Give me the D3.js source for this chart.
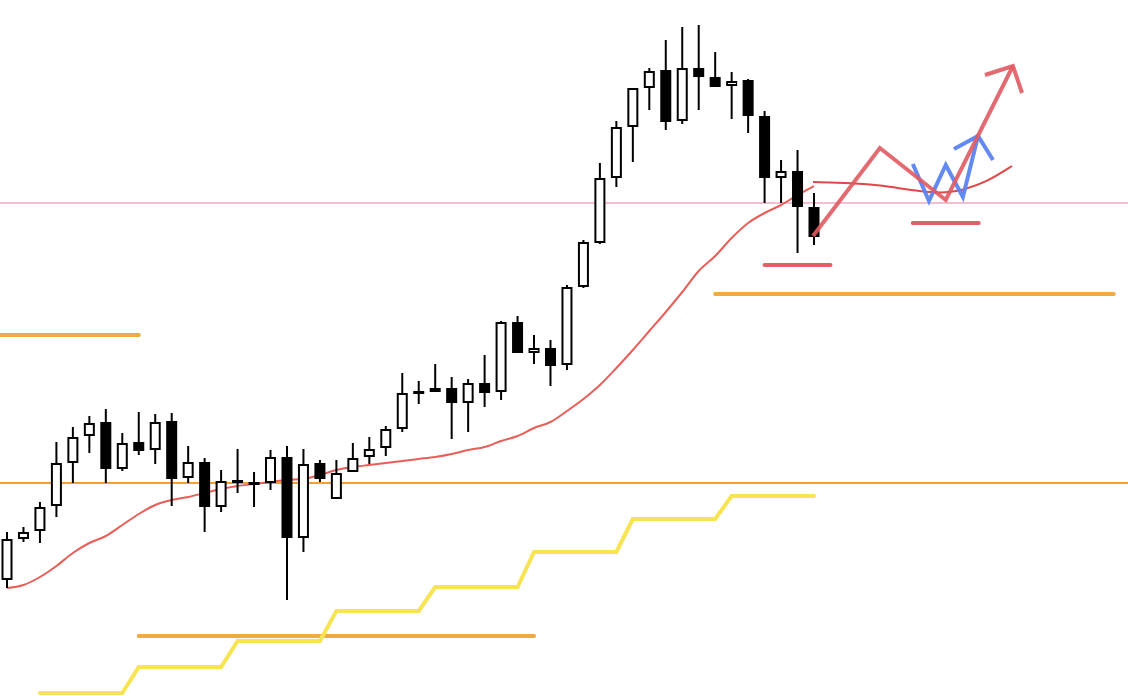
<!DOCTYPE html>
<html><head><meta charset="utf-8">
<script src="https://cdn.jsdelivr.net/npm/d3@7"></script>
<style>html,body{margin:0;padding:0;background:#fff;overflow:hidden}svg{display:block}</style>
</head><body><svg id="c" width="1128" height="696"></svg>
<script>
// ---- data (price units) ----
const opens  = [116,157,165,190,233,260,274,227,254,246,275,218,234,189,216,214,213,239,158,233,197,224,239,248,267,305,308,308,293,313,304,374,343,348,331,409,453,518,569,608,626,575,628,619,610,616,580,518,525,489];
const highs  = [164,169,194,254,269,280,287,263,284,282,283,250,238,226,247,224,246,250,247,236,236,253,259,270,323,315,332,319,317,341,375,380,361,356,411,456,533,575,608,628,656,669,671,644,624,617,585,536,546,503];
const lows   = [108,154,153,179,213,243,213,225,241,232,190,213,164,184,203,189,206,96,144,214,197,224,232,240,264,292,304,257,264,289,296,343,332,310,326,408,452,509,534,586,566,572,586,609,577,563,493,493,443,451];
const closes = [157,164,189,233,259,273,227,253,245,274,217,234,189,215,214,213,239,158,232,217,223,238,247,267,303,304,304,293,313,303,374,343,348,330,409,454,518,569,608,625,574,628,619,609,615,580,518,525,489,459];
const maValues = [108,111,119,130,143,153,160,171,182,191,196,199,203,207,210,212,214,216,217,221,226,229,231,233,235,237,239,242,246,249,255,260,268,274,285,297,311,328,346,365,384,404,425,440,458,473,483,491,501,510];
const pinkLevel = 493;
const orangeLevel = 213;
const orangeZones = [{from:-0.5,to:8,price:361},{from:8,to:32,price:60},{from:43,to:67.2,price:402}];
const stepStarts = [2,8,14,20,26,32,38,44];
const stepLevels = [3,29,55,85,109,144,177,200];
const stepLen = 5;
const projCurve = [[48.94,514],[51.37,513],[53.0,511],[55.6,504],[57.07,503],[58.04,506],[59.5,514],[61.02,530]];
const redPath = [[48.94,460],[53.0,548],[57.0,496],[61.08,630]];
const redArrowHead = [[59.38,621],[61.08,630],[61.63,603]];
const bluePath = [[55.0,532],[55.98,495],[57.0,531],[58.04,499],[58.96,560]];
const blueArrowHead = [[57.5,547],[58.96,560],[59.87,536]];
const redLevels = [{from:46.0,to:50.0,price:431},{from:55.0,to:59.0,price:473}];

// ---- scales ----
const W = 1128, H = 696;
const x = d3.scaleLinear().domain([0,49]).range([7,814]);
const y = d3.scaleLinear().domain([0,696]).range([696,0]);
const svg = d3.select('#c');

const line = d3.line().x(d=>x(d[0])).y(d=>y(d[1]));

// horizontal full-width lines
svg.append('line').attr('x1',0).attr('x2',W).attr('y1',y(pinkLevel)).attr('y2',y(pinkLevel))
  .attr('stroke','#f3bfd0').attr('stroke-width',2);
svg.append('line').attr('x1',0).attr('x2',W).attr('y1',y(orangeLevel)).attr('y2',y(orangeLevel))
  .attr('stroke','#f0a035').attr('stroke-width',2);

// orange zones
svg.selectAll('.oz').data(orangeZones).join('line').attr('class','oz')
  .attr('x1',d=>x(d.from)).attr('x2',d=>x(d.to)).attr('y1',d=>y(d.price)).attr('y2',d=>y(d.price))
  .attr('stroke','#f0aa42').attr('stroke-width',4).attr('stroke-linecap','round');

// yellow step line
const stepPts = [];
stepStarts.forEach((s,i)=>{ stepPts.push([s,stepLevels[i]]); stepPts.push([s+stepLen,stepLevels[i]]); });
svg.append('path').attr('d',line(stepPts)).attr('fill','none')
  .attr('stroke','#f8e452').attr('stroke-width',4).attr('stroke-linecap','round');

// MA line
svg.append('path').attr('d',d3.line().x((d,i)=>x(i)).y(d=>y(d)).curve(d3.curveMonotoneX)(maValues))
  .attr('fill','none').attr('stroke','#e85e58').attr('stroke-width',2);

// candles
const candles = opens.map((o,i)=>({i,o,h:highs[i],l:lows[i],c:closes[i]}));
const bw = 9;
const g = svg.append('g');
g.selectAll('.wick').data(candles).join('line').attr('class','wick')
  .attr('x1',d=>x(d.i)).attr('x2',d=>x(d.i)).attr('y1',d=>y(d.h)).attr('y2',d=>y(d.l))
  .attr('stroke','#000').attr('stroke-width',2);
g.selectAll('.body').data(candles).join('rect').attr('class','body')
  .attr('x',d=>x(d.i)-bw/2)
  .attr('y',d=>y(Math.max(d.o,d.c))+1)
  .attr('width',bw)
  .attr('height',d=>Math.max(1,Math.abs(y(d.o)-y(d.c))-2))
  .attr('fill',d=>d.c>=d.o?'#fff':'#000')
  .attr('stroke','#000').attr('stroke-width',2);

// projection curve
svg.append('path').attr('d',line.curve(d3.curveBasis)(projCurve)).attr('fill','none')
  .attr('stroke','#e0464a').attr('stroke-width',2);
line.curve(d3.curveLinear);

// red levels
svg.selectAll('.rl').data(redLevels).join('line').attr('class','rl')
  .attr('x1',d=>x(d.from)).attr('x2',d=>x(d.to)).attr('y1',d=>y(d.price)).attr('y2',d=>y(d.price))
  .attr('stroke','#e06068').attr('stroke-width',4).attr('stroke-linecap','round');

// blue zigzag
svg.append('path').attr('d',line(bluePath)).attr('fill','none').attr('stroke','#5b84f2')
  .attr('stroke-width',4).attr('stroke-linejoin','miter').attr('opacity',0.95);
svg.append('path').attr('d',line(blueArrowHead)).attr('fill','none').attr('stroke','#5b84f2')
  .attr('stroke-width',4).attr('opacity',0.95);

// red zigzag
svg.append('path').attr('d',line(redPath)).attr('fill','none').attr('stroke','#e05a62')
  .attr('stroke-width',4).attr('opacity',0.9);
svg.append('path').attr('d',line(redArrowHead)).attr('fill','none').attr('stroke','#e05a62')
  .attr('stroke-width',4).attr('opacity',0.9);
</script></body></html>
